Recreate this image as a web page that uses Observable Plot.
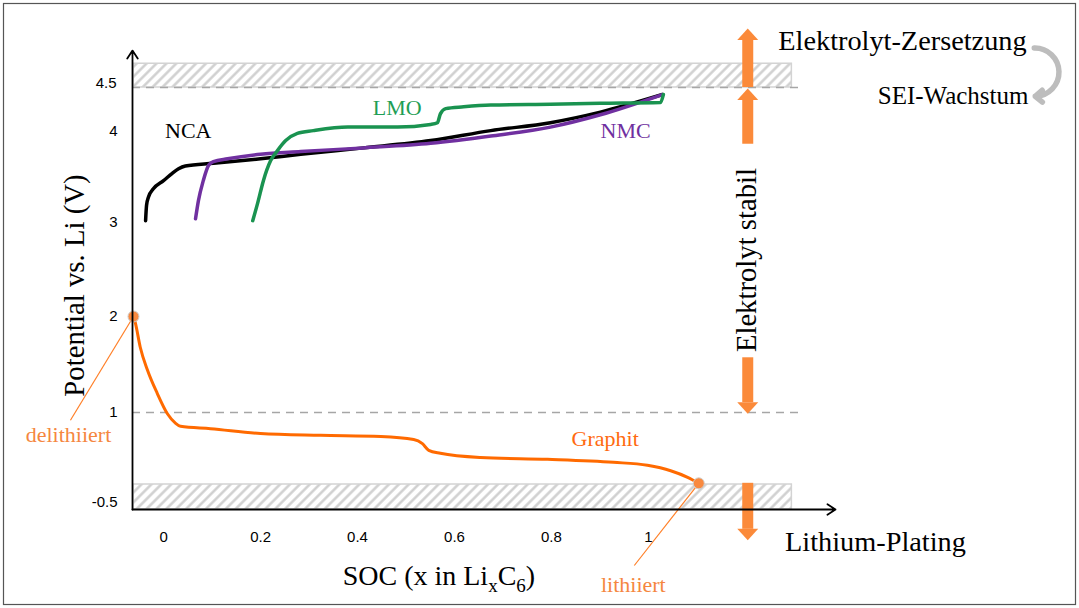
<!DOCTYPE html>
<html>
<head>
<meta charset="utf-8">
<script src="https://cdn.jsdelivr.net/npm/d3@7"></script>
<script src="https://cdn.jsdelivr.net/npm/@observablehq/plot@0.6"></script>
<style>
  html, body { margin: 0; padding: 0; background: #ffffff; }
  #chart { width: 1079px; height: 608px; }
</style>
</head>
<body>
<div id="chart"></div>
<script>
// ---------- data (SOC, potential in V) ----------
const ncaSOC = [-0.033,-0.031,-0.027,-0.017,0.004,0.022,0.035,0.049,0.107,0.204,0.287,0.417,0.555,0.679,0.802,0.905,1.033];
const ncaV   = [3.02,3.19,3.28,3.37,3.46,3.54,3.59,3.62,3.65,3.70,3.75,3.82,3.90,4.01,4.10,4.22,4.42];

const nmcSOC = [0.070,0.076,0.086,0.097,0.107,0.136,0.204,0.287,0.417,0.555,0.679,0.802,0.905,1.033];
const nmcV   = [3.04,3.24,3.46,3.63,3.67,3.70,3.75,3.78,3.82,3.87,3.95,4.05,4.19,4.42];

const lmoSOC = [0.188,0.198,0.210,0.225,0.239,0.256,0.280,0.313,0.384,0.487,0.555,0.569,0.575,0.586,0.623,0.679,0.802,0.905,1.029,1.035];
const lmoV   = [3.02,3.21,3.46,3.68,3.79,3.90,3.98,4.01,4.05,4.05,4.08,4.10,4.20,4.26,4.28,4.30,4.31,4.32,4.33,4.42];

const graphitSOC = [-0.058,-0.054,-0.044,-0.029,-0.009,0.012,0.029,0.039,0.101,0.204,0.328,0.452,0.520,0.538,0.551,0.575,0.658,0.796,0.932,1.002,1.050,1.085,1.108];
const graphitV   = [2.00,1.93,1.68,1.44,1.20,0.98,0.82,0.77,0.73,0.65,0.62,0.60,0.55,0.48,0.37,0.32,0.25,0.22,0.17,0.12,0.03,-0.08,-0.18];

// axis ticks
const xTicks = [0, 0.2, 0.4, 0.6, 0.8, 1];
const yTicksTop = [4.5];
const yTicks = [4, 3, 2, 1, -0.5];
// piecewise potential axis (as in the original figure)
const yBreaks = [-0.5, 1, 2, 3, 4, 4.5];

// limits / regions (in SOC, V)
const axisMinSOC = -0.06, axisMaxSOC = 1.39;
const axisMinV = -0.617, axisMaxV = 4.92;
const bandSOCEnd = 1.30;
const decompBand = [4.5, 4.77];     // Elektrolyt-Zersetzung
const platingBand = [-0.617, -0.2]; // Lithium-Plating
const dashLevels = [4.5, 1];
const dashEndSOC = 1.324;

// annotation arrows (SOC position, from V, to V)
const arrowSOC = 1.209;
const upArrows = [{from: 4.5, to: 5.17}, {from: 3.86, to: 4.49}];
const downArrows = [{from: 1.57, to: 0.98}, {from: -0.18, to: -1.13}];

// text annotations
const curveLabels = [
  {text: "NCA", x: 0.055, y: 4.006, color: "#000000"},
  {text: "LMO", x: 0.486, y: 4.27, color: "#1f9e55"},
  {text: "NMC", x: 0.957, y: 4.01, color: "#7030a0"},
  {text: "Graphit", x: 0.915, y: 0.56, color: "#ff6a10"}
];
const stateLabels = [
  {text: "delithiiert", x: -0.192, y: 0.63, lx: -0.188, ly: 0.87, px: -0.058, py: 2.0},
  {text: "lithiiert", x: 0.973, y: -1.87, lx: 0.975, ly: -1.55, px: 1.108, py: -0.18}
];
const startLabels = [
  {text: "Elektrolyt-Zersetzung", x: 1.272, y: 5.03},
  {text: "Lithium-Plating", x: 1.286, y: -1.15}
];
const endLabels = [
  {text: "SEI-Wachstum", x: 1.788, y: 4.40}
];
const cycleArrow = [{x1: 1.800, y1: 4.95, x2: 1.802, y2: 4.40}];

// ---------- build ----------
const serif = "'Liberation Serif', 'Times New Roman', serif";
const sans = "'Liberation Sans', Arial, sans-serif";
const series = (soc, v) => soc.map((s, i) => ({soc: s, v: v[i]}));
const nca = series(ncaSOC, ncaV);
const nmc = series(nmcSOC, nmcV);
const lmo = series(lmoSOC, lmoV);
const graphit = series(graphitSOC, graphitV);
const graphitEnds = [graphit[0], graphit[graphit.length - 1]];

const headSymbol = {
  draw(ctx) {
    ctx.moveTo(0, 0);
    ctx.lineTo(10.5, 11.5);
    ctx.lineTo(-10.5, 11.5);
    ctx.closePath();
  }
};
const orangeArrow = "#fb8a3a";
const tickStyle = {tickFormat: d => String(d), tickSize: 0, label: null, fontSize: 15, fontFamily: sans, fill: "#000"};

const chart = Plot.plot({
  width: 1079,
  height: 608,
  marginLeft: 132,
  marginRight: 244,
  marginTop: 50,
  marginBottom: 99,
  style: {fontFamily: sans, fontSize: "14px", background: "#ffffff", overflow: "visible"},
  x: {type: "linear", domain: [axisMinSOC, axisMaxSOC]},
  y: {type: "linear", domain: yBreaks, range: [502, 412, 316, 222, 131, 87]},
  marks: [
    // hatched regions
    Plot.rect([decompBand, platingBand], {
      x1: axisMinSOC + 0.002, x2: bandSOCEnd, y1: d => d[0], y2: d => d[1],
      fill: "url(#hatch)", stroke: "#d3d3d3", strokeWidth: 1.5
    }),
    // dashed limits
    Plot.ruleY(dashLevels, {y: d => d, x1: axisMinSOC, x2: dashEndSOC, stroke: "#a6a6a6", strokeWidth: 1.5, strokeDasharray: "8,6"}),
    // curves
    Plot.line(nca, {x: "soc", y: "v", stroke: "#000000", strokeWidth: 3.5, curve: "monotone-x"}),
    Plot.line(nmc, {x: "soc", y: "v", stroke: "#7030a0", strokeWidth: 3.5, curve: "monotone-x"}),
    Plot.line(lmo, {x: "soc", y: "v", stroke: "#1a9350", strokeWidth: 3.5, curve: "monotone-x"}),
    Plot.line(graphit, {x: "soc", y: "v", stroke: "#ff6a00", strokeWidth: 3, curve: "monotone-x"}),
    // leader lines
    Plot.link(stateLabels, {x1: "px", y1: "py", x2: "lx", y2: "ly", stroke: "#ff7f27", strokeWidth: 1.2}),
    Plot.dot(graphitEnds, {x: "soc", y: "v", r: 5.5, fill: "#f98a40", stroke: "#cfcfcf", strokeWidth: 1}),
    // orange block arrows
    Plot.ruleX(upArrows, {x: () => arrowSOC, y1: "to", y2: "from", insetTop: 11, stroke: orangeArrow, strokeWidth: 11}),
    Plot.dot(upArrows, {x: () => arrowSOC, y: "to", symbol: headSymbol, fill: orangeArrow, stroke: "none"}),
    Plot.ruleX(downArrows, {x: () => arrowSOC, y1: "from", y2: "to", insetBottom: 11, stroke: orangeArrow, strokeWidth: 11}),
    Plot.dot(downArrows, {x: () => arrowSOC, y: "to", symbol: headSymbol, rotate: 180, fill: orangeArrow, stroke: "none"}),
    // axes with arrow heads
    Plot.arrow([{x1: axisMinSOC, y1: axisMinV, x2: axisMinSOC, y2: axisMaxV}, {x1: axisMinSOC, y1: axisMinV, x2: axisMaxSOC, y2: axisMinV}],
      {x1: "x1", y1: "y1", x2: "x2", y2: "y2", stroke: "#000000", strokeWidth: 1.8, headLength: 8, headAngle: 66}),
    Plot.axisY({...tickStyle, ticks: yTicksTop, tickPadding: 16, dy: -4}),
    Plot.axisY({...tickStyle, ticks: yTicks, tickPadding: 15}),
    Plot.axisX({...tickStyle, ticks: xTicks, tickPadding: 22, dx: 2}),
    // labels
    Plot.text(curveLabels, {x: "x", y: "y", text: "text", fill: "color", fontSize: 22, fontFamily: serif}),
    Plot.text(stateLabels, {x: "x", y: "y", text: "text", fill: "#f5873f", fontSize: 22, fontFamily: serif}),
    Plot.text(startLabels, {x: "x", y: "y", text: "text", textAnchor: "start", fill: "#000", fontSize: 28.3, fontFamily: serif}),
    Plot.text(endLabels, {x: "x", y: "y", text: "text", textAnchor: "end", fill: "#000", fontSize: 25, fontFamily: serif}),
    Plot.text(["Elektrolyt stabil"], {x: () => 1.208, y: () => 2.60, text: d => d, rotate: -90, fill: "#000", fontSize: 28.7, fontFamily: serif}),
    Plot.text(["Potential vs. Li (V)"], {x: () => -0.180, y: () => 2.33, text: d => d, rotate: -90, fill: "#000", fontSize: 28.8, fontFamily: serif}),
    Plot.text(["SOC (x in LixC6)"], {x: () => 0.572, y: () => -1.73, text: d => d, fill: "#000", fontSize: 28, fontFamily: serif}),
    // SEI cycle arrow
    Plot.arrow(cycleArrow, {x1: "x1", y1: "y1", x2: "x2", y2: "y2", bend: 90, stroke: "#bdbdbd", strokeWidth: 5.5, headLength: 2.5, headAngle: 80})
  ]
});

// hatch pattern + frame
const ns = "http://www.w3.org/2000/svg";
const defs = document.createElementNS(ns, "defs");
defs.innerHTML = '<pattern id="hatch" patternUnits="userSpaceOnUse" width="7" height="7" patternTransform="rotate(45)">' +
  '<rect width="7" height="7" fill="#ffffff"/><line x1="1.5" y1="0" x2="1.5" y2="7" stroke="#cdcdcd" stroke-width="2.4"/></pattern>';
chart.insertBefore(defs, chart.firstChild);
const frame = document.createElementNS(ns, "rect");
frame.setAttribute("x", 3.5); frame.setAttribute("y", 3.5);
frame.setAttribute("width", 1072); frame.setAttribute("height", 601);
frame.setAttribute("fill", "none"); frame.setAttribute("stroke", "#555555"); frame.setAttribute("stroke-width", 1.2);
chart.appendChild(frame);

// subscripts in SOC label
chart.querySelectorAll("text").forEach(t => {
  if (t.textContent === "SOC (x in LixC6)") {
    t.textContent = "";
    const parts = [["SOC (x in Li", 0, null], ["x", 7, 19], ["C", -7, null], ["6", 7, 19], [")", -7, null]];
    for (const [s, dy, fs] of parts) {
      const ts = document.createElementNS(ns, "tspan");
      ts.textContent = s;
      if (dy) ts.setAttribute("dy", dy);
      if (fs) ts.setAttribute("font-size", fs);
      t.appendChild(ts);
    }
  }
});
document.getElementById("chart").appendChild(chart);
</script>
</body>
</html>
